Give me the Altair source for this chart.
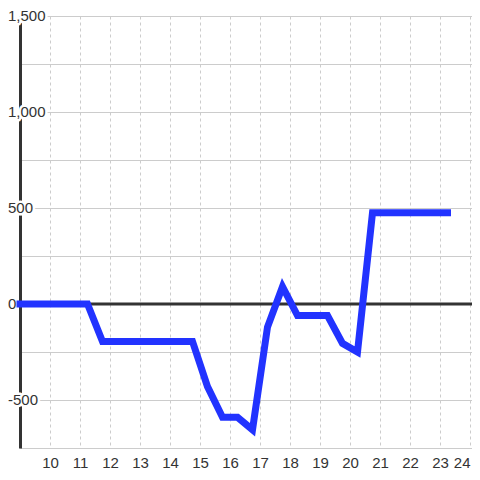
import altair as alt
import pandas as pd

# Data
xs = [9, 11.25, 11.75, 14.75, 15.25, 15.75, 16.25, 16.75, 17.25, 17.75, 18.25, 19.25, 19.75, 20.25, 20.75, 23.25]
ys = [0, 0, -195, -195, -430, -590, -590, -655, -120, 90, -60, -60, -205, -250, 475, 475]
x_ticks = list(range(10, 25))
y_grid = [-750, -500, -250, 0, 250, 500, 750, 1000, 1250, 1500]
y_labels = [1500, 1000, 500, 0, -500]

line_df = pd.DataFrame({"x": xs, "y": ys})
lab_df = pd.DataFrame({"v": y_labels, "t": [f"{v:,}" for v in y_labels]})
zero_df = pd.DataFrame({"y": [0]})

W = 452
xscale = alt.Scale(domain=[9, 9 + W / 30], nice=False, zero=False)
yscale = alt.Scale(domain=[-750, 1500], nice=False, zero=False)

FONT = "Liberation Sans"
FS = 15

line = alt.Chart(line_df).mark_line(
    color="#2233ff", strokeWidth=7, strokeCap="square", strokeJoin="miter", clip=False
).encode(
    x=alt.X("x:Q", scale=xscale, axis=alt.Axis(
        values=x_ticks, title=None, domain=False, ticks=False,
        grid=True, gridColor="#cccccc", gridDash=[3, 3], gridWidth=1,
        labelFont=FONT, labelFontSize=FS, labelColor="#333333", labelPadding=7,
        labelFlush=4)),
    y=alt.Y("y:Q", scale=yscale, axis=alt.Axis(
        values=y_grid, title=None, labels=False, ticks=False,
        domain=True, domainColor="#333333", domainWidth=3,
        grid=True, gridColor="#cccccc", gridWidth=1)),
)

zero = alt.Chart(zero_df).mark_rule(color="#333333", strokeWidth=3).encode(
    y=alt.Y("y:Q", scale=yscale),
)

halo = alt.Chart(lab_df).mark_text(
    align="left", baseline="middle", font=FONT, fontSize=FS,
    stroke="white", strokeWidth=5, fill="white", strokeJoin="round"
).encode(
    x=alt.value(-12),
    y=alt.Y("v:Q", scale=yscale),
    text="t:N",
)

labels = alt.Chart(lab_df).mark_text(
    align="left", baseline="middle", font=FONT, fontSize=FS, color="#333333"
).encode(
    x=alt.value(-12),
    y=alt.Y("v:Q", scale=yscale),
    text="t:N",
)

chart = alt.layer(zero, halo, labels, line).properties(
    width=W, height=432,
    autosize=alt.AutoSizeParams(type="none"),
    padding={"left": 12, "top": 8, "right": 0, "bottom": 24},
).configure_view(stroke=None).configure(background="white")

chart.save("out.html", embed_options={"renderer": "svg", "actions": False})
